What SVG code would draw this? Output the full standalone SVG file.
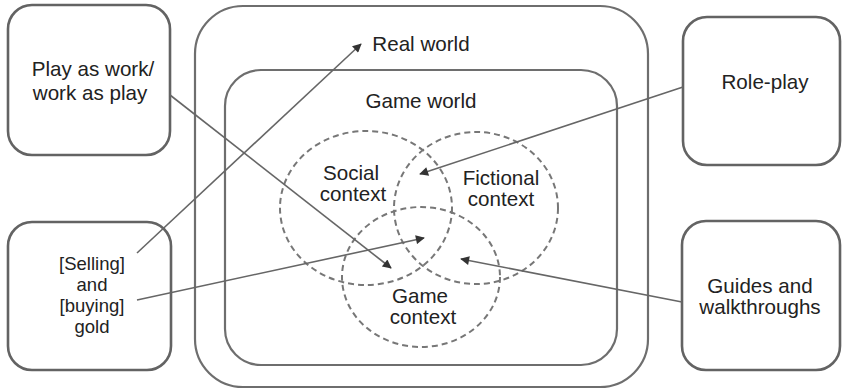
<svg xmlns="http://www.w3.org/2000/svg" width="842" height="392" viewBox="0 0 842 392">
<defs>
<style>
.box{fill:#fff;stroke:#636363;stroke-width:2.6}
.frame{fill:none;stroke:#6e6e6e;stroke-width:2.2}
.ctx{fill:none;stroke:#777;stroke-width:2;stroke-dasharray:6 4}
.lbl{font-family:"Liberation Sans",Arial,sans-serif;font-size:20.6px;fill:#222;text-anchor:middle}
.tight{font-size:18.5px}
.con{stroke:#666;stroke-width:1.6;fill:none;marker-end:url(#ah)}
</style>
<marker id="ah" viewBox="0 0 10 10" refX="9" refY="5" markerWidth="11" markerHeight="9" markerUnits="userSpaceOnUse" orient="auto">
<path d="M0,0 L10,5 L0,10 z" fill="#333"/>
</marker>
</defs>
<rect width="842" height="392" fill="#fff"/>
<g id="real-world">
<rect class="frame" x="195" y="6" width="453" height="381" rx="48"/>
<text class="lbl" x="421" y="51">Real world</text>
</g>
<g id="game-world">
<rect class="frame" x="225" y="70" width="392" height="295" rx="36"/>
<text class="lbl" x="421" y="108">Game world</text>
</g>
<g id="social-context">
<ellipse class="ctx" cx="366" cy="208" rx="86" ry="77"/>
<text class="lbl" x="351" y="180">Social</text>
<text class="lbl" x="353" y="201">context</text>
</g>
<g id="fictional-context">
<ellipse class="ctx" cx="476" cy="208" rx="82" ry="76"/>
<text class="lbl" x="501" y="185">Fictional</text>
<text class="lbl" x="501" y="206">context</text>
</g>
<g id="game-context">
<ellipse class="ctx" cx="421" cy="277" rx="79" ry="70"/>
<text class="lbl" x="420" y="303">Game</text>
<text class="lbl" x="423" y="324">context</text>
</g>
<g id="play-as-work">
<rect class="box" x="8" y="5" width="162" height="150" rx="24"/>
<text class="lbl" x="93" y="76">Play as work/</text>
<text class="lbl" x="90" y="100">work as play</text>
</g>
<g id="selling-buying">
<rect class="box" x="8" y="222" width="163" height="148" rx="24"/>
<text class="lbl tight" x="92" y="270">[Selling]</text>
<text class="lbl tight" x="92" y="291">and</text>
<text class="lbl tight" x="92" y="312">[buying]</text>
<text class="lbl tight" x="92" y="333">gold</text>
</g>
<g id="role-play">
<rect class="box" x="683" y="17" width="157" height="148" rx="24"/>
<text class="lbl" x="765" y="89">Role-play</text>
</g>
<g id="guides">
<rect class="box" x="682" y="221" width="158" height="149" rx="24"/>
<text class="lbl" x="760" y="293">Guides and</text>
<text class="lbl" x="760" y="314">walkthroughs</text>
</g>
<g id="connectors">
<line class="con" x1="170" y1="95" x2="391" y2="268"/>
<line class="con" x1="137" y1="253" x2="361" y2="44"/>
<line class="con" x1="137" y1="300" x2="424" y2="238"/>
<line class="con" x1="683" y1="87" x2="420" y2="174"/>
<line class="con" x1="682" y1="302" x2="461" y2="259"/>
</g>
</svg>
